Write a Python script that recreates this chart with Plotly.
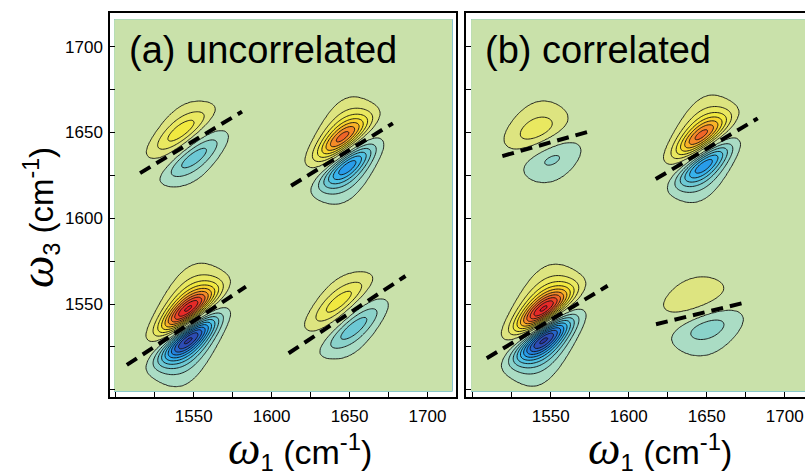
import numpy as np
import plotly.graph_objects as go

# ---------------- axes ----------------
GRID_MIN, GRID_MAX, GRID_STEP = 1499.0, 1716.0, 1.0
X_RANGE_A = [1496.3, 1718.3]
X_RANGE_B = [1495.7, 1713.0]
Y_RANGE = [1495.8, 1719.6]
TICK_VALS = [1550, 1600, 1650, 1700]
MINOR_STEP = 25

# ---------------- panel (a): uncorrelated ----------------
# order: diagonal 1550, diagonal 1650, cross (1550,1650), cross (1650,1550)
a_w1 = [1546.5, 1647.0, 1546.0, 1648.0]
a_w3 = [1538.0, 1638.5, 1643.0, 1543.6]
a_amp_pos = [1.02, 0.74, 0.36, 0.36]
a_amp_neg = [1.02, 0.67, 0.36, 0.36]
a_width_w1 = [12.5, 12.0, 14.0, 14.0]
a_width_w3 = [9.5, 9.5, 9.5, 9.5]
a_split = [17.0, 17.0, 16.0, 16.0]
a_shift = [0.0, 2.0, 6.0, 7.0]
a_slope = [0.58, 0.56, 0.55, 0.60]
a_line_x0 = [1507.1, 1612.5, 1515.6, 1610.9]
a_line_y0 = [1514.5, 1618.9, 1626.3, 1521.3]
a_line_x1 = [1583.5, 1677.8, 1581.0, 1685.9]
a_line_y1 = [1560.1, 1655.3, 1662.1, 1566.3]

# ---------------- panel (b): correlated ----------------
b_w1 = [1545.5, 1647.3, 1545.5, 1646.5]
b_w3 = [1538.0, 1639.5, 1643.0, 1544.7]
b_amp_pos = [1.02, 0.74, 0.25, 0.19]
b_amp_neg = [1.02, 0.67, 0.215, 0.24]
b_width_w1 = [12.5, 12.0, 15.5, 17.5]
b_width_w3 = [9.5, 9.5, 14.0, 14.0]
b_split = [17.0, 17.0, 15.0, 15.0]
b_shift = [0.0, 1.0, 5.0, 4.0]
b_slope = [0.54, 0.54, 0.26, 0.22]
b_line_x0 = [1509.0, 1617.3, 1519.0, 1617.5]
b_line_y0 = [1518.4, 1622.8, 1636.2, 1538.2]
b_line_x1 = [1586.5, 1682.7, 1576.3, 1675.2]
b_line_y1 = [1560.6, 1658.2, 1651.0, 1551.0]

# contour band colours: zero band, then positive / negative levels 1..10
ZERO_COLOR = "rgb(201,225,170)"
POS_COLORS = ["rgb(221,228,128)", "rgb(233,232,96)", "rgb(241,233,64)",
              "rgb(248,212,46)", "rgb(249,178,40)", "rgb(245,138,40)",
              "rgb(240,100,40)", "rgb(235,68,40)", "rgb(229,42,40)",
              "rgb(218,26,40)"]
NEG_COLORS = ["rgb(170,220,196)", "rgb(138,210,202)", "rgb(108,200,212)",
              "rgb(80,194,226)", "rgb(55,178,236)", "rgb(40,156,234)",
              "rgb(36,128,220)", "rgb(40,100,200)", "rgb(45,76,180)",
              "rgb(44,56,160)"]

LEVEL_STEP = 0.1
N_LEVELS = 10

axis_vals = np.arange(GRID_MIN, GRID_MAX + 1e-9, GRID_STEP)
W1, W3 = np.meshgrid(axis_vals, axis_vals)


def lobe(cx, cy, s1, gam, k):
    # Gaussian along omega_1, Lorentzian across the sheared (centre-line) coordinate
    x = W1 - cx
    u = W3 - cy - k * x
    return np.exp(-x ** 2 / (2 * s1 ** 2)) / (1 + (u / gam) ** 2)


def spectrum(w1, w3, ap, an, s1, gam, split, shift, slope):
    total = np.zeros_like(W1)
    for i in range(len(w1)):
        gp = lobe(w1[i] - shift[i] / 2, w3[i] + split[i] / 2, s1[i], gam[i], slope[i]).ravel()
        gn = lobe(w1[i] + shift[i] / 2, w3[i] - split[i] / 2, s1[i], gam[i], slope[i]).ravel()
        unit = gp - gn
        p, n = np.argmax(unit), np.argmin(unit)
        # weights giving the requested peak height and trough depth
        alpha, beta = np.linalg.solve([[gp[p], -gn[p]], [gp[n], -gn[n]]], [ap[i], -an[i]])
        total += (alpha * gp - beta * gn).reshape(W1.shape)
    return total


def level_scale(s):
    # remap so that contour boundaries fall on +-0.1, +-0.2, ... with no zero line
    h = LEVEL_STEP / 2
    return np.where(s > LEVEL_STEP, s - h, np.where(s < -LEVEL_STEP, s + h, s / 2))


def band_colorscale():
    colors = NEG_COLORS[::-1] + [ZERO_COLOR] + POS_COLORS
    nb = len(colors) - 1
    scale = []
    for j, c in enumerate(colors):
        lo = max(0.0, (j - 0.5) / nb)
        hi = min(1.0, (j + 0.5) / nb)
        if j > 0:
            lo += 1e-6
        scale.append([lo, c])
        scale.append([hi, c])
    return scale


def contour_trace(z, xa, ya):
    h = LEVEL_STEP / 2
    top = N_LEVELS * LEVEL_STEP - h
    return go.Contour(
        x=axis_vals, y=axis_vals, z=np.round(level_scale(z), 4),
        xaxis=xa, yaxis=ya,
        autocontour=False,
        contours=dict(start=-top, end=top, size=LEVEL_STEP, coloring="fill"),
        colorscale=band_colorscale(), showscale=False,
        line=dict(color="rgba(15,15,15,0.9)", width=1.0, smoothing=1),
        hoverinfo="skip",
    )


def node_lines(x0, y0, x1, y1, xa, ya):
    traces = []
    for i in range(len(x0)):
        traces.append(go.Scatter(
            x=[x0[i], x1[i]], y=[y0[i], y1[i]], mode="lines",
            xaxis=xa, yaxis=ya, showlegend=False, hoverinfo="skip",
            line=dict(color="black", width=4, dash="12px,7px"),
        ))
    return traces


spec_a = spectrum(a_w1, a_w3, a_amp_pos, a_amp_neg, a_width_w1, a_width_w3,
                  a_split, a_shift, a_slope)
spec_b = spectrum(b_w1, b_w3, b_amp_pos, b_amp_neg, b_width_w1, b_width_w3,
                  b_split, b_shift, b_slope)

fig = go.Figure()
fig.add_trace(contour_trace(spec_a, "x", "y"))
fig.add_trace(contour_trace(spec_b, "x2", "y2"))
for t in node_lines(a_line_x0, a_line_y0, a_line_x1, a_line_y1, "x", "y"):
    fig.add_trace(t)
for t in node_lines(b_line_x0, b_line_y0, b_line_x1, b_line_y1, "x2", "y2"):
    fig.add_trace(t)

W, H = 805, 475
tick_font = dict(family="Liberation Sans, Arial, sans-serif", size=17, color="black")
common_axis = dict(
    showgrid=False, zeroline=False, showline=True, linecolor="black", linewidth=1.5,
    ticks="inside", ticklen=5, tickwidth=1, tickcolor="black",
    tickvals=TICK_VALS, tickfont=tick_font,
    minor=dict(tick0=1500, dtick=MINOR_STEP, ticks="inside", ticklen=5,
               tickwidth=1, tickcolor="black", showgrid=False),
)
y_dom = [(H - 397) / H, (H - 13) / H]
fig.update_layout(
    width=W, height=H, margin=dict(l=0, r=0, t=0, b=0),
    paper_bgcolor="white", plot_bgcolor="white", showlegend=False,
    xaxis=dict(common_axis, domain=[110 / W, 456 / W], range=X_RANGE_A, mirror=True,
               anchor="y", ticklabelstandoff=3),
    yaxis=dict(common_axis, domain=y_dom, range=Y_RANGE, mirror=True,
               anchor="x", ticklabelstandoff=2),
    xaxis2=dict(common_axis, domain=[466 / W, 1.0], range=X_RANGE_B, mirror=True,
                anchor="y2", ticklabelstandoff=3),
    yaxis2=dict(common_axis, domain=y_dom, range=Y_RANGE, mirror=False,
                anchor="x2", showticklabels=False),
)

sans = "Liberation Sans, Arial, sans-serif"
omega = '<span style="font-family:Liberation Serif, Times New Roman, serif;font-size:46px"><i>ω</i></span>'
fig.add_annotation(text="(a) uncorrelated", x=127 / W, y=(H - 50) / H, xref="paper", yref="paper",
                   xanchor="left", yanchor="middle", showarrow=False,
                   font=dict(family=sans, size=38, color="black"))
fig.add_annotation(text="(b) correlated", x=483 / W, y=(H - 50) / H, xref="paper", yref="paper",
                   xanchor="left", yanchor="middle", showarrow=False,
                   font=dict(family=sans, size=38, color="black"))
x_title = omega + "<sub>1</sub> (cm<sup>-1</sup>)"
fig.add_annotation(text=x_title, x=300 / W, y=(H - 449) / H, xref="paper", yref="paper",
                   xanchor="center", yanchor="middle", showarrow=False,
                   font=dict(family=sans, size=34, color="black"))
fig.add_annotation(text=x_title, x=660 / W, y=(H - 449) / H, xref="paper", yref="paper",
                   xanchor="center", yanchor="middle", showarrow=False,
                   font=dict(family=sans, size=34, color="black"))
y_title = omega + "<sub>3</sub> (cm<sup>-1</sup>)"
fig.add_annotation(text=y_title, x=38 / W, y=(H - 218) / H, xref="paper", yref="paper",
                   xanchor="center", yanchor="middle", showarrow=False, textangle=-90,
                   font=dict(family=sans, size=33, color="black"))

fig.write_html("out.html")
